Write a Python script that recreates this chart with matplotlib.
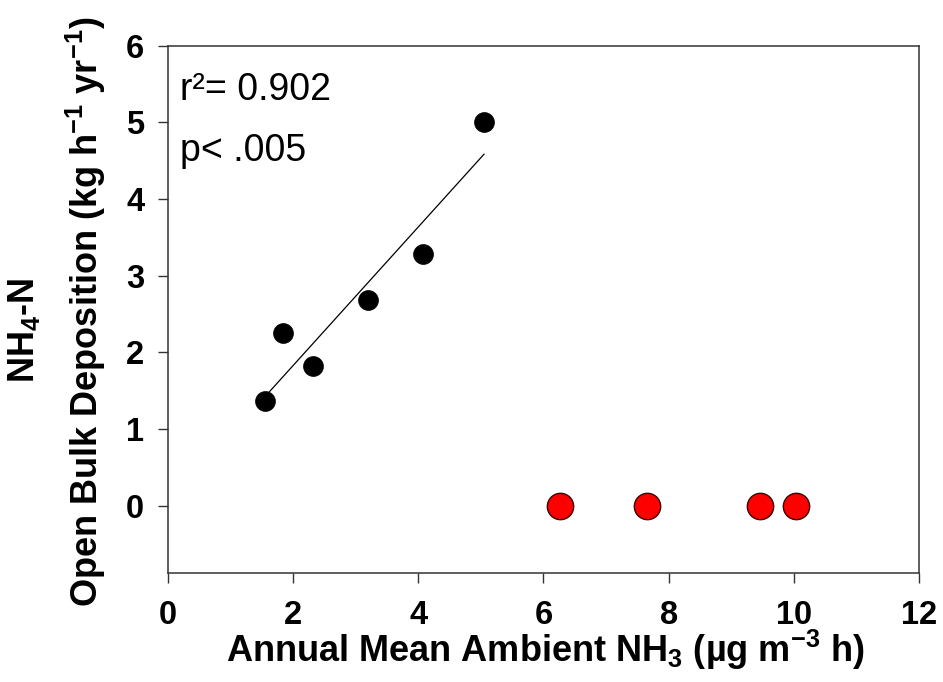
import numpy as np
import matplotlib
matplotlib.use("Agg")
import matplotlib.pyplot as plt

plt.rcParams['font.family'] = ['Liberation Sans', 'DejaVu Sans']
plt.rcParams['mathtext.fontset'] = 'custom'
plt.rcParams['mathtext.rm'] = 'Liberation Sans:bold'
plt.rcParams['mathtext.it'] = 'Liberation Sans:bold'
plt.rcParams['mathtext.bf'] = 'Liberation Sans:bold'
plt.rcParams['mathtext.default'] = 'rm'

# Data
nh3_black = [1.55, 1.84, 2.32, 3.20, 4.07, 5.05]
dep_black = [1.37, 2.25, 1.82, 2.69, 3.28, 5.01]
nh3_red = [6.26, 7.66, 9.46, 10.04]
dep_red = [0, 0, 0, 0]
x_ticks = [0, 2, 4, 6, 8, 10, 12]
y_ticks = [0, 1, 2, 3, 4, 5, 6]
r2_text = "r\u00b2= 0.902"
p_text = "p< .005"

fig = plt.figure(figsize=(9.43, 6.82), dpi=100)
ax = fig.add_axes([0.178, 0.1594, 0.9746 - 0.178, 0.933 - 0.1594])

# Regression line from data
coef = np.polyfit(nh3_black, dep_black, 1)
xl = np.array([min(nh3_black), max(nh3_black)])
ax.plot(xl, np.polyval(coef, xl), color='black', lw=0.9, zorder=2)

ax.scatter(nh3_black, dep_black, s=205, color='black', edgecolor='black', linewidth=0.5, zorder=3)
ax.scatter(nh3_red, dep_red, s=360, color='#ff0000', edgecolor='#3a0000', linewidth=1.0, zorder=3)

ax.set_xlim(0, 12)
ax.set_ylim(-0.88, 6)
ax.set_xticks(x_ticks)
ax.set_yticks(y_ticks)
ax.set_xticklabels([str(v) for v in x_ticks], fontsize=23.5, fontweight='bold')
ax.set_yticklabels([str(v) for v in y_ticks], fontsize=23.5, fontweight='bold')
ax.tick_params(direction='out', length=7, width=1.0, color='#333333', pad=12)
ax.tick_params(axis='y', pad=10)
for sp in ax.spines.values():
    sp.set_linewidth(1.1)
    sp.set_color('#333333')

ax.text(0.016, 0.95, r2_text, transform=ax.transAxes, fontsize=27, va='top', ha='left')
ax.text(0.016, 0.835, p_text, transform=ax.transAxes, fontsize=27, va='top', ha='left')

fig.text(545 / 943, 1 - 662 / 682, r'Annual Mean Ambient NH$_3$ (µg m$^{-3}$ h)',
         fontsize=26, fontweight='bold', ha='center', va='baseline')
fig.text(24 / 943, 1 - 330 / 682, r'NH$_4$-N', rotation=90, fontsize=26,
         fontweight='bold', ha='center', va='center')
fig.text(86 / 943, 1 - 312 / 682, r'Open Bulk Deposition (kg h$^{-1}$ yr$^{-1}$)', rotation=90,
         fontsize=26, fontweight='bold', ha='center', va='center')

fig.savefig("out.png", dpi=100)
